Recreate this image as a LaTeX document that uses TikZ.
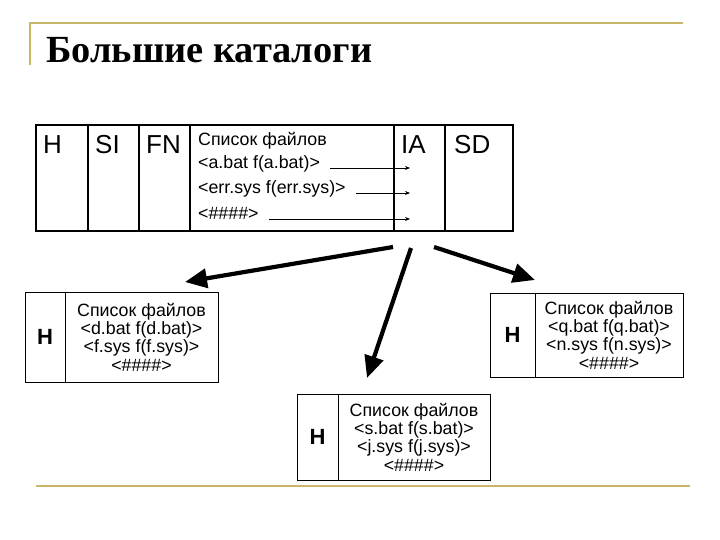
\documentclass[tikz,border=0pt]{standalone}
\usepackage{fontspec}
\setmainfont{Liberation Sans}
\newfontfamily\titlefont{Liberation Serif}
\usepackage{tikz}
\usetikzlibrary{arrows.meta,positioning}
\definecolor{gold}{RGB}{201,182,104}

\begin{document}
\begin{tikzpicture}[x=1pt,y=-1pt]
			\tikzstyle{Gold}	= [draw=gold, line width=2.5pt]
			\tikzstyle{Cell}	= [draw, line width=1.2pt, minimum height=106pt, inner sep=0pt, outer sep=0pt]
			\tikzstyle{Head}	= [anchor=base west, inner sep=0pt, font=\fontsize{26}{26}\selectfont]
			\tikzstyle{Row}		= [anchor=base west, inner sep=0pt, font=\fontsize{17.8}{17.8}\selectfont]
			\tikzstyle{Link}	= [-{Stealth[length=5pt,width=4pt]}, line width=0.8pt, shorten <=10pt]
			\tikzstyle{Down}	= [-{Triangle[length=22pt,width=19pt]}, line width=4.2pt]
			\tikzstyle{HBox}	= [draw, line width=1pt, inner sep=0pt, outer sep=0pt, font=\bfseries\fontsize{22}{22}\selectfont]
			\tikzstyle{LBox}	= [draw, line width=1pt, inner sep=0pt, outer sep=0pt, align=center, font=\fontsize{17.8}{18.3}\selectfont]

			\useasboundingbox (0,0) rectangle (720,540);

			% frame and title
			\draw [Gold] (30,65) -- (30,23) -- (683,23);
			\draw [Gold] (36,486) -- (690,486);
			\node (title) at (46,63) [anchor=base west, inner sep=0pt, font=\titlefont\bfseries\fontsize{38.4}{38.4}\selectfont] {Большие каталоги};

			% big directory entry
			\node (tH) at (36,125) [Cell, anchor=north west, minimum width=52pt] {};
			\node (tSI) [Cell, right=0pt of tH, minimum width=51pt] {};
			\node (tFN) [Cell, right=0pt of tSI, minimum width=51pt] {};
			\node (tList) [Cell, right=0pt of tFN, minimum width=204pt] {};
			\node (tIA) [Cell, right=0pt of tList, minimum width=51pt] {};
			\node (tSD) [Cell, right=0pt of tIA, minimum width=68pt] {};
			\draw [line width=2pt] (tH.north west) rectangle (tSD.south east);

			\node (lH) at ([shift={(7pt,-29pt)}]tH.north west) [Head] {H};
			\node (lSI) at ([shift={(7pt,-29pt)}]tSI.north west) [Head] {SI};
			\node (lFN) at ([shift={(7pt,-29pt)}]tFN.north west) [Head] {FN};
			\node (lIA) at ([shift={(7pt,-29pt)}]tIA.north west) [Head] {IA};
			\node (lSD) at ([shift={(9pt,-29pt)}]tSD.north west) [Head] {SD};

			\node (r0) at ([shift={(8pt,-21pt)}]tList.north west) [Row] {Список файлов};
			\node (r1) at ([shift={(8pt,-44pt)}]tList.north west) [Row] {<a.bat f(a.bat)>};
			\node (r2) at ([shift={(8pt,-69pt)}]tList.north west) [Row] {<err.sys f(err.sys)>};
			\node (r3) at ([shift={(8pt,-95pt)}]tList.north west) [Row] {<\#\#\#\#>};

			\coordinate (tip) at (410,0);
			\draw [Link] ([yshift=1pt]r1.base east) -- ([yshift=1pt]r1.base east -| tip);
			\draw [Link] ([yshift=1pt]r2.base east) -- ([yshift=1pt]r2.base east -| tip);
			\draw [Link] ([yshift=1pt]r3.base east) -- ([yshift=1pt]r3.base east -| tip);

			% continuation blocks
			\node (hL) at (25,292) [HBox, anchor=north west, minimum width=40pt, minimum height=90pt] {H};
			\node (bL) [LBox, right=0pt of hL, minimum width=153pt, minimum height=90pt] {Список файлов\\<d.bat f(d.bat)>\\<f.sys f(f.sys)>\\<\#\#\#\#>};

			\node (hB) at (297,394) [HBox, anchor=north west, minimum width=41pt, minimum height=86pt] {H};
			\node (bB) [LBox, right=0pt of hB, minimum width=152pt, minimum height=86pt] {Список файлов\\<s.bat f(s.bat)>\\<j.sys f(j.sys)>\\<\#\#\#\#>};

			\node (hR) at (490,293) [HBox, anchor=north west, minimum width=45pt, minimum height=84pt] {H};
			\node (bR) [LBox, right=0pt of hR, minimum width=148pt, minimum height=84pt] {Список файлов\\<q.bat f(q.bat)>\\<n.sys f(n.sys)>\\<\#\#\#\#>};

			\coordinate (sL) at (393,247);
			\coordinate (sB) at (411,248);
			\coordinate (sR) at (434,247);
			\coordinate (eL) at (185,282);
			\coordinate (eB) at (367,378);
			\coordinate (eR) at (535,280);

			\draw [Down] (sL) to (eL);
			\draw [Down] (sB) to (eB);
			\draw [Down] (sR) to (eR);
\end{tikzpicture}
\end{document}
